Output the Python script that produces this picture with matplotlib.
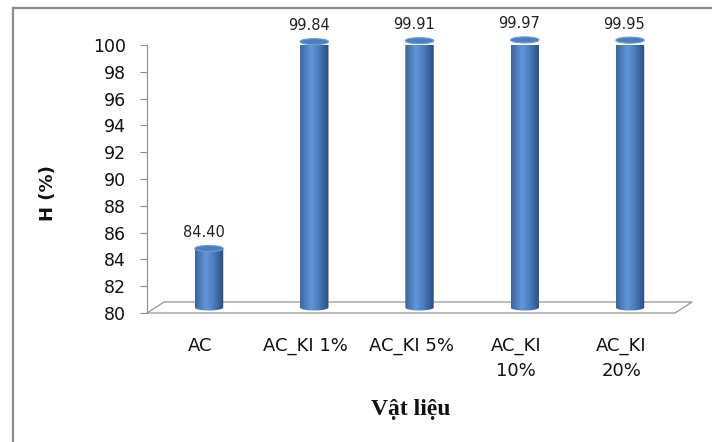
import numpy as np
import matplotlib.pyplot as plt
from matplotlib.patches import Ellipse, Polygon, PathPatch
from matplotlib.path import Path
from matplotlib.lines import Line2D
from matplotlib.colors import LinearSegmentedColormap

# --- Số liệu ---
vat_lieu = ["AC", "AC_KI 1%", "AC_KI 5%", "AC_KI\n10%", "AC_KI\n20%"]
hieu_suat = [84.40, 99.84, 99.91, 99.97, 99.95]
y_ticks = list(range(80, 101, 2))

# --- Kiểu dáng ---
Y0, Y1 = 80, 100
W = 0.27          # đường kính trụ (đơn vị trục x)
EH = 0.45         # chiều cao elip đỉnh (đơn vị trục y)
DX, DY = 0.162, 0.82   # độ sâu sàn 3D
GRID = "#8c8c8c"

cmap = LinearSegmentedColormap.from_list(
    "tru", [(0.0, "#3a659f"), (0.38, "#6196d8"), (0.62, "#4d80c2"), (1.0, "#294c80")])

fig = plt.figure(figsize=(7.12, 4.42), dpi=100)
ax = fig.add_axes([0.2065, 0.2919, 0.7416, 0.6063])
ax.set_xlim(-0.589, 4.428)
ax.set_ylim(Y0, Y1)

# sàn 3D
x0, x1 = ax.get_xlim()
san = Polygon([(x0, Y0), (x1, Y0), (x1 + DX, Y0 + DY), (x0 + DX, Y0 + DY)],
              closed=True, facecolor="white", edgecolor="#a0a0a0", lw=1.0,
              clip_on=False, zorder=1)
ax.add_patch(san)

# các cột hình trụ
grad = np.linspace(0, 1, 256).reshape(1, -1)
for i, v in enumerate(hieu_suat):
    base = Y0 + DY / 2
    top = v + DY / 2
    t1 = np.linspace(np.pi, 2 * np.pi, 60)
    t2 = np.linspace(0, np.pi, 60)
    xs = np.concatenate([i + W / 2 * np.cos(t1), i + W / 2 * np.cos(t2)])
    ys = np.concatenate([base + EH / 2 * np.sin(t1), top + EH / 2 * np.sin(t2)])
    path = Path(np.column_stack([xs, ys]), closed=False)
    clip = PathPatch(path, transform=ax.transData, facecolor="none", edgecolor="none")
    im = ax.imshow(grad, cmap=cmap, aspect="auto", zorder=2,
                   extent=[i - W / 2, i + W / 2, base - EH / 2, top + EH / 2])
    im.set_clip_path(clip)
    im.set_clip_box(None)
    ax.add_patch(Ellipse((i, top), W, EH, facecolor="#4c7fc0",
                         edgecolor="#6f9ad4", lw=0.8, zorder=3, clip_on=False))
    ax.annotate(f"{v:.2f}", (i, top + EH / 2), xytext=(-4, 4),
                textcoords="offset points", ha="center", va="bottom",
                fontsize=10.5, color="#222222", zorder=4, annotation_clip=False)

# trục
for s in ["top", "right", "bottom"]:
    ax.spines[s].set_visible(False)
ax.spines["left"].set_color(GRID)
ax.set_yticks(y_ticks)
ax.tick_params(axis="y", length=5, color=GRID, pad=10, labelsize=12.5, labelcolor="#111111")
ax.set_xticks([i - 0.08 for i in range(len(vat_lieu))])
ax.set_xticklabels(vat_lieu, fontsize=13, color="#111111", linespacing=1.5)
ax.tick_params(axis="x", length=0, pad=17)

ax.set_ylabel("H (%)", fontsize=13, fontweight="bold", color="#111111")
ax.yaxis.set_label_coords(-0.17, 0.448)
ax.set_xlabel("Vật liệu", fontsize=17, fontweight="bold", family="Liberation Serif",
              color="#111111", va="center")
ax.xaxis.set_label_coords(0.5, -0.36)

# khung viền
fig.add_artist(Line2D([13 / 712, 13 / 712], [0, 1 - 8 / 442], color="#8c8c8c", lw=1.6))
fig.add_artist(Line2D([13 / 712, 1], [1 - 8 / 442, 1 - 8 / 442], color="#8c8c8c", lw=1.6))

fig.savefig("out.png", dpi=100)
